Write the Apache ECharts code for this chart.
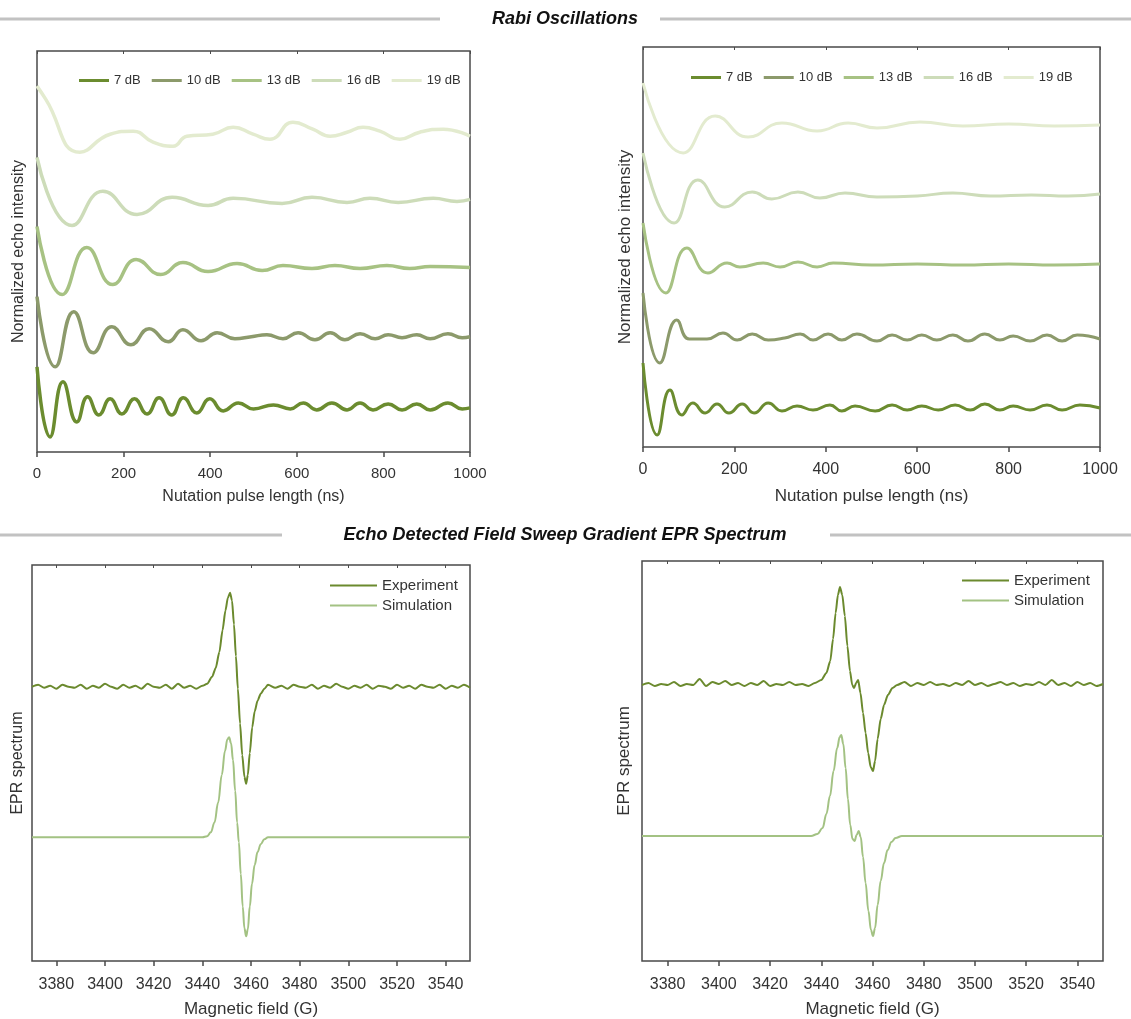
<!DOCTYPE html>
<html>
<head>
<meta charset="utf-8">
<script src="https://cdn.jsdelivr.net/npm/echarts@6/dist/echarts.min.js"></script>
<style>
  html, body { margin: 0; padding: 0; background: #fff; }
  #main { width: 1131px; height: 1019px; }
</style>
</head>
<body>
<div id="main"></div>
<script>
// rabi oscillations, values in arbitrary offset units (0..400 on the y axis)
const rabiNames = ['7 dB', '10 dB', '13 dB', '16 dB', '19 dB'];
const rabiColors = ['#6b8c2f', '#8c9a6b', '#a7c283', '#cddcb9', '#e3ebcf'];

const rabiL7 = [[0,85],[30,15],[60,70],[92,30],[117,55],[143,37],[169,53],[196,38],[225,53],[254,38],[282,54],[311,37],[338,54],[369,39],[399,53],[430,41],[465,49],[500,43],[546,47],[585,43],[615,49],[646,42],[681,49],[716,42],[746,49],[776,42],[811,48],[843,42],[877,48],[908,42],[949,49],[982,43],[1000,44]];
const rabiL10 = [[0,155],[42,85],[85,140],[130,99],[173,125],[217,107],[259,123],[303,110],[337,122],[379,111],[416,119],[457,113],[495,115],[531,117],[568,113],[603,119],[642,112],[677,119],[711,112],[746,118],[781,113],[811,117],[843,114],[877,117],[908,113],[949,118],[982,114],[1000,115]];
const rabiL13 = [[0,225],[58,157],[115,204],[175,167],[229,192],[286,177],[337,189],[395,180],[462,188],[520,181],[568,186],[635,183],[688,186],[746,183],[808,186],[861,183],[908,185],[1000,184]];
const rabiL16 = [[0,294],[81,226],[152,260],[231,237],[312,254],[395,246],[453,253],[566,248],[635,254],[716,249],[769,253],[834,249],[915,253],[970,250],[1000,252]];
const rabiL19 = [[0,365],[20,352],[99,299],[169,317],[222,320],[268,309],[314,305],[346,315],[406,317],[453,324],[499,317],[538,312],[591,329],[637,322],[677,315],[716,319],[753,324],[792,320],[838,312],[884,319],[938,322],[1000,315]];

const rabiR7 = [[0,84],[31,12],[59,57],[85,32],[109,44],[136,34],[162,43],[188,34],[217,43],[243,34],[274,44],[304,36],[337,41],[372,37],[409,42],[435,36],[464,41],[508,36],[545,42],[578,37],[610,41],[646,37],[683,42],[716,37],[748,43],[781,37],[810,41],[847,37],[884,42],[917,37],[956,42],[1000,39]];
const rabiR10 = [[0,154],[37,84],[74,127],[101,108],[140,108],[175,114],[206,107],[239,113],[274,107],[310,109],[344,113],[372,107],[405,113],[435,107],[468,113],[512,106],[545,112],[578,107],[610,112],[643,107],[678,112],[711,106],[748,113],[781,107],[810,111],[847,106],[884,112],[917,106],[950,112],[1000,108]];
const rabiR13 = [[0,224],[50,154],[96,199],[142,174],[184,184],[212,180],[263,184],[300,180],[339,185],[381,180],[416,184],[500,182],[600,183],[700,182],[800,183],[900,182],[1000,183]];
const rabiR16 = [[0,294],[68,224],[120,267],[179,240],[239,255],[282,248],[339,255],[387,249],[442,254],[512,250],[600,251],[678,254],[760,251],[850,252],[930,251],[1000,253]];
const rabiR19 = [[0,364],[88,294],[158,331],[230,310],[304,324],[381,316],[449,324],[512,319],[606,325],[700,321],[800,323],[900,321],[1000,322]];

// field sweep spectra, x in gauss, y in offset units
const expL = [[3370,277],[3372.5,279],[3375,276],[3377.5,278],[3380,275],[3382.5,279],[3385,277],[3387.5,276],[3390,279],[3392.5,275],[3395,278],[3397.5,276],[3400,280],[3402.5,277],[3405,275],[3407.5,279],[3410,276],[3412.5,278],[3415,275],[3417.5,280],[3420,277],[3422.5,276],[3425,279],[3427.5,275],[3430,280],[3432.5,276],[3435,278],[3437.5,275],[3440,278],[3442,280],[3444,287],[3445.5,296],[3447,312],[3448.3,334],[3449.5,354],[3450.5,367],[3451.4,372],[3452.2,364],[3453,340],[3453.8,308],[3454.6,275],[3455.5,240],[3456.4,208],[3457.3,186],[3458,179],[3458.7,188],[3459.5,210],[3460.5,236],[3461.5,252],[3462.7,263],[3464,270],[3465.5,275],[3467,279],[3470,276],[3472.5,278],[3475,275],[3477.5,279],[3480,277],[3482.5,276],[3485,279],[3487.5,275],[3490,278],[3492.5,276],[3495,280],[3497.5,277],[3500,275],[3502.5,278],[3505,276],[3507.5,279],[3510,275],[3512.5,278],[3515,277],[3517.5,275],[3520,279],[3522.5,276],[3525,278],[3527.5,275],[3530,279],[3532.5,277],[3535,276],[3537.5,279],[3540,275],[3542.5,278],[3545,276],[3547.5,279],[3550,276]];
const simL = [[3370,125],[3440,125],[3442,126],[3443.5,130],[3445,140],[3446.5,160],[3448,188],[3449.3,212],[3450.3,224],[3451,226],[3451.8,220],[3452.6,203],[3453.5,172],[3454.3,140],[3455,120],[3455.8,88],[3456.6,55],[3457.3,33],[3458,25],[3458.7,32],[3459.5,55],[3460.4,78],[3461.5,97],[3462.7,110],[3464,118],[3465.5,123],[3467,125],[3550,125]];

const expR = [[3370,276],[3372.5,278],[3375,275],[3377.5,277],[3380,276],[3382.5,279],[3385,275],[3387.5,277],[3390,276],[3392.5,282],[3395,275],[3397.5,279],[3400,277],[3402.5,280],[3405,276],[3407.5,278],[3410,275],[3412.5,278],[3415,276],[3417.5,280],[3420,275],[3422.5,277],[3425,276],[3427.5,279],[3430,276],[3432.5,277],[3435,275],[3437.5,278],[3440,281],[3442,288],[3443.5,300],[3444.6,322],[3445.6,348],[3446.5,366],[3447.3,374],[3448.2,366],[3449.2,345],[3450.2,315],[3451.2,290],[3452.1,276],[3452.8,273],[3453.6,278],[3454.4,281],[3455.3,268],[3456.3,248],[3457.3,228],[3458.3,208],[3459.3,194],[3460.2,190],[3461,200],[3462,222],[3463.2,242],[3464.5,256],[3466,266],[3467.8,273],[3469.6,276],[3472.5,279],[3475,275],[3477.5,278],[3480,276],[3482.5,279],[3485,276],[3487.5,277],[3490,275],[3492.5,278],[3495,276],[3497.5,280],[3500,276],[3502.5,278],[3505,275],[3507.5,277],[3510,279],[3512.5,276],[3515,278],[3517.5,275],[3520,277],[3522.5,276],[3525,279],[3527.5,276],[3530,281],[3532.5,276],[3535,278],[3537.5,275],[3540,279],[3542.5,276],[3545,278],[3547.5,275],[3550,277]];
const simR = [[3370,125],[3436,125],[3438.5,127],[3440.5,133],[3442,147],[3443.4,165],[3444.8,190],[3446.2,213],[3447.2,224],[3447.8,226],[3448.6,217],[3449.5,193],[3450.4,162],[3451.3,136],[3452.2,122],[3453,120],[3453.8,126],[3454.6,130],[3455.4,124],[3456.3,104],[3457.3,78],[3458.4,50],[3459.4,31],[3460.2,25],[3461,33],[3462,56],[3463.2,80],[3464.5,98],[3465.9,111],[3467.4,119],[3469,123],[3471.5,125],[3550,125]];

const rabiTicks = [0, 200, 400, 600, 800, 1000];
const fieldTicks = [3380, 3400, 3420, 3440, 3460, 3480, 3500, 3520, 3540];
const expColor = '#6b8a2e';
const simColor = '#a3c283';

const chart = echarts.init(document.getElementById('main'));
const font = 'Liberation Sans, Arial, sans-serif';

const grids = [
  { left: 37, top: 51, width: 433, height: 401 },
  { left: 643, top: 47, width: 457, height: 400 },
  { left: 32, top: 565, width: 438, height: 401 },
  { left: 642, top: 561, width: 461, height: 402 }
].map(g => Object.assign(g, { show: true, borderColor: '#4a4a4a', borderWidth: 1.5, backgroundColor: 'transparent' }));

function bottomAxis(i, rabi, fs, margin, gap) {
  return {
    type: 'value', gridIndex: i, position: 'bottom',
    min: rabi ? 0 : 3370, max: rabi ? 1000 : 3550, interval: rabi ? 200 : undefined,
    name: rabi ? 'Nutation pulse length (ns)' : 'Magnetic field (G)',
    nameLocation: 'middle', nameGap: gap,
    nameTextStyle: { fontSize: fs + 1, color: '#333', fontFamily: font },
    axisLine: { show: false },
    axisTick: { show: true, length: 5, lineStyle: { color: '#4a4a4a', width: 1.5 }, customValues: rabi ? rabiTicks : fieldTicks },
    axisLabel: { fontSize: fs, color: '#333', fontFamily: font, margin: margin, customValues: rabi ? rabiTicks : fieldTicks,
      formatter: v => String(v) },
    splitLine: { show: false }
  };
}
function topAxis(i, rabi) {
  return {
    type: 'value', gridIndex: i, position: 'top',
    min: rabi ? 0 : 3370, max: rabi ? 1000 : 3550,
    axisLine: { show: false },
    axisTick: { show: true, inside: true, length: 3, lineStyle: { color: '#4a4a4a' }, customValues: rabi ? rabiTicks : fieldTicks },
    axisLabel: { show: false },
    splitLine: { show: false }
  };
}
function yAxis(i, name, fs, gap) {
  return {
    type: 'value', gridIndex: i, min: 0, max: 400,
    name: name, nameLocation: 'middle', nameGap: gap,
    nameTextStyle: { fontSize: fs, color: '#333', fontFamily: font },
    axisLine: { show: false }, axisTick: { show: false }, axisLabel: { show: false }, splitLine: { show: false }
  };
}

const series = [];
[[rabiL7, rabiL10, rabiL13, rabiL16, rabiL19], [rabiR7, rabiR10, rabiR13, rabiR16, rabiR19]].forEach((set, p) => {
  set.forEach((d, k) => {
    series.push({
      name: rabiNames[k], type: 'line', xAxisIndex: p, yAxisIndex: p, data: d,
      smooth: 0.5, showSymbol: false, z: 10 - k,
      itemStyle: { color: rabiColors[k] },
      lineStyle: { color: rabiColors[k], width: p === 0 ? 3.5 : 3 }
    });
  });
});
[[expL, simL], [expR, simR]].forEach((set, p) => {
  series.push({ name: 'Experiment', type: 'line', xAxisIndex: p + 2, yAxisIndex: p + 2, data: set[0], smooth: 0.25, smoothMonotone: 'x', showSymbol: false, z: 5,
    itemStyle: { color: expColor }, lineStyle: { color: expColor, width: 2 } });
  series.push({ name: 'Simulation', type: 'line', xAxisIndex: p + 2, yAxisIndex: p + 2, data: set[1], smooth: 0.4, smoothMonotone: 'x', showSymbol: false, z: 4,
    itemStyle: { color: simColor }, lineStyle: { color: simColor, width: 2 } });
});

function rabiLegend(left, top, fs) {
  return {
    data: rabiNames, left: left, top: top, icon: 'rect', itemWidth: 30, itemHeight: 3, itemGap: 11,
    textStyle: { fontSize: fs, color: '#333', fontFamily: font }
  };
}
function epLegend(left, top) {
  return {
    data: ['Experiment', 'Simulation'], orient: 'vertical', left: left, top: top, icon: 'rect',
    itemWidth: 47, itemHeight: 2, itemGap: 5, padding: 0,
    textStyle: { fontSize: 15, color: '#333', fontFamily: font }
  };
}

function header(text, cy, l1, r1) {
  return [
    { type: 'line', shape: { x1: 0, y1: cy, x2: l1, y2: cy }, style: { stroke: '#c2c2c2', lineWidth: 3 } },
    { type: 'line', shape: { x1: r1, y1: cy, x2: 1131, y2: cy }, style: { stroke: '#c2c2c2', lineWidth: 3 } },
    { type: 'text', x: 565, y: cy, style: { text: text, fill: '#111', font: 'italic bold 18px ' + font, textAlign: 'center', textVerticalAlign: 'middle' } }
  ];
}

chart.setOption({
  animation: false,
  backgroundColor: '#fff',
  grid: grids,
  xAxis: [bottomAxis(0, true, 15, 14, 37), bottomAxis(1, true, 16, 15, 41), bottomAxis(2, false, 16, 16, 40), bottomAxis(3, false, 16, 16, 40),
          topAxis(0, true), topAxis(1, true), topAxis(2, false), topAxis(3, false)],
  yAxis: [yAxis(0, 'Normalized echo intensity', 16, 10), yAxis(1, 'Normalized echo intensity', 17, 9),
          yAxis(2, 'EPR spectrum', 16, 6), yAxis(3, 'EPR spectrum', 17, 9)],
  legend: [rabiLegend(74, 69, 13), rabiLegend(686, 66, 13), epLegend(330, 578), epLegend(962, 573)],
  graphic: header('Rabi Oscillations', 19, 440, 660).concat(header('Echo Detected Field Sweep Gradient EPR Spectrum', 535, 282, 830)),
  series: series
});
</script>
</body>
</html>
